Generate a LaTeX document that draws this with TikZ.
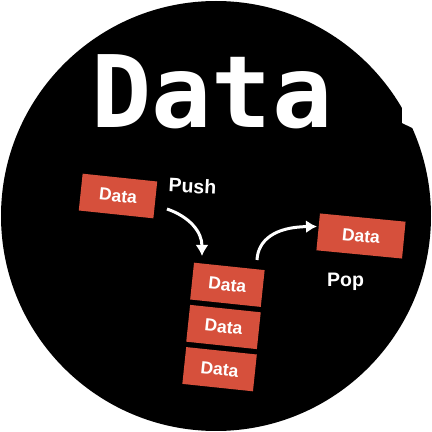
\documentclass[tikz,border=0pt]{standalone}
\usepackage{fontspec}
\setmainfont{Liberation Sans}
\newfontfamily\bigmono{DejaVu Sans Mono}
\usepackage{xcolor}
\definecolor{stackred}{RGB}{214,80,60}
\usetikzlibrary{arrows.meta,positioning}

\begin{document}
\begin{tikzpicture}[x=1pt,y=1pt,node distance=5pt]
  \tikzstyle{databox}=[rectangle,fill=stackred,text=white,minimum height=37pt,inner sep=0pt,rotate=-6,font=\fontsize{17.5}{17.5}\selectfont\bfseries]
  \tikzstyle{oplabel}=[text=white,inner sep=0pt,font=\fontsize{19.5}{19.5}\selectfont\bfseries]
  \tikzstyle{moveline}=[draw=white,line width=3pt,-{Latex[length=11pt,width=13pt]}]

  \useasboundingbox (0,0) rectangle (432,432);
  \fill[white] (0,0) rectangle (432,432);
  \fill[black] (216,216) circle (215);
  \fill[white] (402,324) -- (402,309) -- (412.5,304) -- (432,304) -- (432,324) -- cycle;

  \node[text=white,inner sep=0pt,anchor=base,font=\bigmono\fontsize{100}{100}\selectfont\bfseries] (title) at (212,304) {Data};

  \node[databox,minimum width=75pt] (new) at (118,236) {Data};
  \node[databox,minimum width=71pt] (top) at (227.4,147.2) {Data};
  \node[databox,minimum width=71pt,below=of top] (mid) {Data};
  \node[databox,minimum width=71pt,below=of mid] (bottom) {Data};
  \node[databox,minimum width=86pt,rotate=0.5] (popped) at (361,196) {Data};

  \node[oplabel,rotate=-3] (push) at (192.5,246) {Push};
  \node[oplabel,anchor=base] (pop) at (345.5,145.3) {Pop};

  \coordinate (pushstart) at (167,223);
  \coordinate (pushend) at (202,176);
  \coordinate (popstart) at (257,172);
  \coordinate (popend) at (317,205.5);

  \draw[moveline] (pushstart) .. controls (190,215) and (202,200) .. (pushend);
  \draw[moveline] (popstart) .. controls (258,192) and (275,205) .. (popend);
\end{tikzpicture}
\end{document}
